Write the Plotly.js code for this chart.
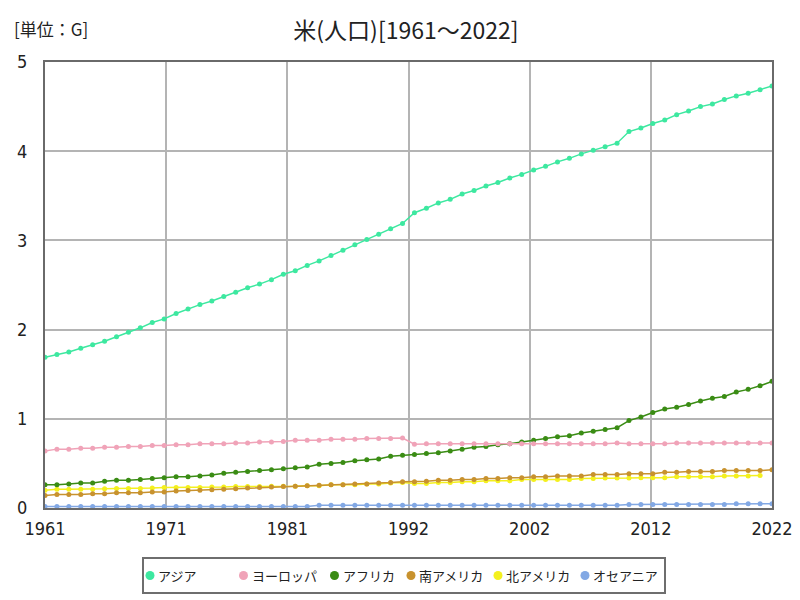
<!DOCTYPE html>
<html>
<head>
<meta charset="utf-8">
<script src="https://cdn.plot.ly/plotly-3.0.1.min.js"></script>
<style>html,body{margin:0;padding:0;background:#fff;}#chart{width:800px;height:600px;}</style>
</head>
<body>
<div id="chart"></div>
<script>
const years = [1961,1962,1963,1964,1965,1966,1967,1968,1969,1970,
1971,1972,1973,1974,1975,1976,1977,1978,1979,1980,
1981,1982,1983,1984,1985,1986,1987,1988,1989,1990,
1991,1992,1993,1994,1995,1996,1997,1998,1999,2000,
2001,2002,2003,2004,2005,2006,2007,2008,2009,2010,
2011,2012,2013,2014,2015,2016,2017,2018,2019,2020,
2021,2022];

const asia = [1.69,1.72,1.75,1.79,1.83,1.87,1.92,1.97,2.02,2.08,
2.12,2.18,2.23,2.28,2.32,2.37,2.42,2.47,2.51,2.56,
2.62,2.66,2.72,2.77,2.83,2.89,2.95,3.01,3.07,3.13,
3.19,3.31,3.36,3.42,3.46,3.52,3.56,3.61,3.65,3.70,
3.74,3.79,3.83,3.88,3.92,3.97,4.01,4.05,4.09,4.22,
4.26,4.31,4.35,4.41,4.45,4.50,4.53,4.58,4.62,4.65,
4.69,4.73];

const europe = [0.64,0.66,0.66,0.67,0.67,0.68,0.68,0.69,0.69,0.70,
0.70,0.71,0.71,0.72,0.72,0.72,0.73,0.73,0.74,0.74,
0.745,0.76,0.76,0.76,0.77,0.77,0.77,0.78,0.78,0.78,
0.785,0.715,0.72,0.72,0.72,0.72,0.72,0.72,0.72,0.72,
0.72,0.72,0.72,0.72,0.72,0.72,0.72,0.72,0.73,0.72,
0.72,0.72,0.72,0.73,0.73,0.73,0.73,0.73,0.73,0.73,
0.73,0.73];

const africa = [0.26,0.26,0.27,0.28,0.28,0.30,0.31,0.31,0.32,0.33,
0.34,0.35,0.35,0.36,0.37,0.39,0.40,0.41,0.42,0.43,
0.44,0.45,0.46,0.49,0.50,0.51,0.53,0.54,0.55,0.58,
0.59,0.60,0.61,0.62,0.64,0.66,0.68,0.69,0.71,0.72,
0.74,0.76,0.78,0.80,0.81,0.84,0.86,0.88,0.90,0.98,
1.02,1.07,1.11,1.13,1.16,1.20,1.23,1.25,1.30,1.33,
1.37,1.42];

const southAmerica = [0.14,0.15,0.15,0.15,0.16,0.16,0.17,0.17,0.17,0.18,
0.18,0.19,0.195,0.20,0.205,0.21,0.215,0.225,0.23,0.235,
0.24,0.245,0.25,0.255,0.26,0.26,0.27,0.27,0.28,0.285,
0.295,0.295,0.30,0.31,0.31,0.32,0.32,0.33,0.33,0.34,
0.34,0.35,0.35,0.36,0.36,0.36,0.375,0.375,0.375,0.385,
0.385,0.385,0.40,0.40,0.41,0.41,0.41,0.42,0.42,0.42,
0.42,0.43];

const northAmerica = [0.20,0.21,0.21,0.21,0.21,0.215,0.22,0.22,0.22,0.225,
0.23,0.23,0.23,0.23,0.235,0.235,0.24,0.24,0.24,0.245,
0.245,0.245,0.25,0.25,0.26,0.26,0.26,0.27,0.27,0.28,
0.285,0.275,0.275,0.285,0.285,0.295,0.295,0.305,0.305,0.305,
0.32,0.32,0.32,0.32,0.32,0.33,0.33,0.335,0.335,0.335,
0.34,0.34,0.34,0.35,0.35,0.35,0.35,0.36,0.36,0.36,
0.365,null];

const oceania = [0.018,0.018,0.018,0.018,0.018,0.018,0.018,0.018,0.018,0.018,
0.018,0.018,0.018,0.018,0.018,0.018,0.018,0.018,0.018,0.018,
0.018,0.018,0.018,0.03,0.03,0.03,0.03,0.03,0.03,0.03,
0.03,0.03,0.03,0.03,0.03,0.03,0.03,0.03,0.03,0.03,
0.03,0.03,0.03,0.03,0.03,0.03,0.03,0.03,0.03,0.04,
0.04,0.04,0.04,0.04,0.04,0.04,0.04,0.04,0.048,0.048,
0.048,0.048];

const seriesNames = ['アジア','ヨーロッパ','アフリカ','南アメリカ','北アメリカ','オセアニア'];
const seriesColors = ['#3de8a0','#f0a3b8','#3a8c14','#c8922e','#f4f01e','#82a8e4'];
const seriesData = [asia, europe, africa, southAmerica, northAmerica, oceania];

const xTickLabels = ['1961','1971','1981','1992','2002','2012','2022'];
const xTickVals = [1961, 1961+61/6, 1961+2*61/6, 1961+3*61/6, 1961+4*61/6, 1961+5*61/6, 2022];

const traces = [];
const order = [5,4,3,2,1,0];
order.forEach(i => {
  traces.push({
    x: years, y: seriesData[i], type: 'scatter', mode: 'lines+markers',
    name: seriesNames[i], showlegend: false,
    line: {color: seriesColors[i], width: 1.5},
    marker: {color: seriesColors[i], size: 5},
    hoverinfo: 'x+y+name'
  });
});

// Custom legend (dot + label), placed below the plot in a framed box
const plotL = 45, plotW = 727, plotB = 508, plotH = 446;
const px2x = p => (p - plotL) / plotW;
const px2y = p => (plotB - p) / plotH;
const legendDotPx = [150, 243.5, 334.5, 411, 498, 585];
const legendRowY = 575.5;
const shapes = [{
  type: 'rect', xref: 'paper', yref: 'paper',
  x0: px2x(143), x1: px2x(665), y0: px2y(558), y1: px2y(593),
  line: {color: '#6e6e6e', width: 2}, fillcolor: '#fff'
}];
const annotations = [{
  text: '[単位：G]', xref: 'paper', yref: 'paper',
  x: -0.045, y: 1.076, xanchor: 'left', yanchor: 'middle', showarrow: false,
  font: {family: '"Noto Sans CJK JP", sans-serif', size: 17, color: '#222'}
}];
seriesNames.forEach((n, i) => {
  shapes.push({
    type: 'circle', xref: 'paper', yref: 'paper',
    xsizemode: 'pixel', ysizemode: 'pixel',
    xanchor: px2x(legendDotPx[i]), yanchor: px2y(legendRowY),
    x0: -4.5, x1: 4.5, y0: -4.5, y1: 4.5,
    fillcolor: seriesColors[i], line: {width: 0}
  });
  annotations.push({
    text: n, xref: 'paper', yref: 'paper', showarrow: false,
    x: px2x(legendDotPx[i] + 6), y: px2y(legendRowY),
    xanchor: 'left', yanchor: 'middle',
    font: {family: '"Noto Sans CJK JP", sans-serif', size: 13, color: '#222'}
  });
});

const tickFont = {family: '"Liberation Sans Narrow", "DejaVu Sans Condensed", "Noto Sans", sans-serif', size: 18, color: '#222'};

const layout = {
  width: 800, height: 600,
  paper_bgcolor: '#fff', plot_bgcolor: '#fff',
  margin: {l: 45, r: 28, t: 62, b: 92},
  title: {
    text: '米(人口)[1961～2022]',
    font: {family: '"Noto Sans CJK JP", sans-serif', size: 23, color: '#222'},
    x: 0.4965, xref: 'paper', xanchor: 'center',
    y: 28, yref: 'container', yanchor: 'middle'
  },
  xaxis: {
    type: 'linear', range: [1961, 2022],
    tickmode: 'array', tickvals: xTickVals, ticktext: xTickLabels,
    showgrid: true, gridcolor: '#b4b4b4', gridwidth: 2,
    showline: true, linecolor: '#6a6a6a', linewidth: 2, mirror: true,
    ticks: '', tickfont: tickFont, zeroline: false, ticklabelstandoff: 3
  },
  yaxis: {
    range: [0, 5], tickmode: 'array', tickvals: [0,1,2,3,4,5], ticktext: ['0','1','2','3','4','5'],
    showgrid: true, gridcolor: '#b4b4b4', gridwidth: 2,
    showline: true, linecolor: '#6a6a6a', linewidth: 2, mirror: true,
    ticks: '', tickfont: tickFont, zeroline: false, ticklabelstandoff: 12
  },
  shapes: shapes,
  annotations: annotations,
  showlegend: false
};

Plotly.newPlot('chart', traces, layout, {displayModeBar: false, staticPlot: true});
</script>
</body>
</html>
